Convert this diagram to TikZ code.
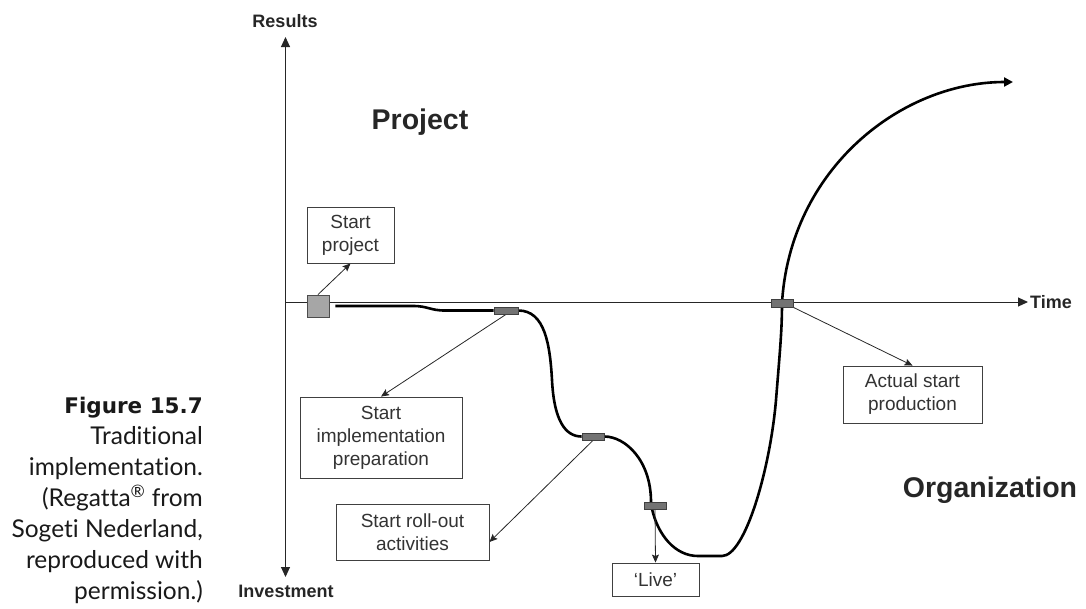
\documentclass[tikz,border=0pt]{standalone}
\usepackage{fontspec}
\setmainfont{Liberation Sans}
\newfontfamily\capfont[Ligatures=NoCommon]{Lato}
\newfontfamily\capbold{DejaVu Sans}
\usetikzlibrary{arrows.meta,backgrounds}

\begin{document}
\begin{tikzpicture}[x=1pt, y=-1pt,
		ax/.style     = {draw=black!85, line width=1pt},
		lbl/.style    = {font=\bfseries\fontsize{18}{20}\selectfont, text=black!85, inner sep=0pt},
		big/.style    = {font=\bfseries\fontsize{28.5}{32}\selectfont, text=black!85, inner sep=0pt},
		box/.style    = {rectangle, draw=black!75, fill=white, line width=0.9pt, align=center, inner sep=0pt, font=\fontsize{19}{23}\selectfont, text=black!80},
		mk/.style     = {rectangle, draw=black!75, fill=black!55, line width=0.8pt, minimum width=22pt, minimum height=7pt, inner sep=0pt},
		sq/.style     = {rectangle, draw=black!70, fill=black!35, line width=0.9pt, minimum size=22pt, inner sep=0pt},
		crv/.style    = {draw=black, line width=2.6pt, -{Triangle[length=9pt,width=9pt]}},
		call/.style   = {draw=black!85, line width=0.8pt, -{Stealth[length=8pt,width=7pt,inset=1.5pt]}},
		figcap/.style = {font=\capfont\fontsize{24.5}{31}\selectfont, text=black!90, align=right, inner sep=0pt}
		]
		\useasboundingbox (0,0) rectangle (1086,608);
		
		%Axes
		\coordinate (ytop) at (285.5, 37);
		\coordinate (ybot) at (285.5, 577);
		\coordinate (xl)   at (285.5, 302);
		\coordinate (xr)   at (1028, 302);
		\coordinate (tip)  at (1013, 82);
		
		%Nodes
		\node[lbl]              (res)  at (285, 21)   {Results};
		\node[lbl]              (inv)  at (286, 591)  {Investment};
		\node[lbl, anchor=west] (time) at (1030, 302)  {Time};
		\node[big]              (prj)  at (420, 122)  {Project};
		\node[big]              (org)  at (990, 490)  {Organization};
		
		\node[sq]	(sq)   at (318, 306)    {};
		\node[mk, minimum width=24pt]	(mk1)  at (506, 310.5)  {};
		\node[mk]	(mk2)  at (593, 436.5)  {};
		\node[mk]	(mk3)  at (655, 505.5)  {};
		\node[mk, minimum height=8pt]	(mk4)  at (782, 303)    {};
		
		\node[box, minimum width=87pt,  minimum height=56pt]	(proj) at (350.5, 235)   {Start\\project};
		\node[box, minimum width=162pt, minimum height=81pt]	(impl) at (381, 437.5)   {Start\\implementation\\preparation};
		\node[box, minimum width=153pt, minimum height=56pt]	(roll) at (412.5, 532)   {Start roll-out\\activities};
		\node[box, minimum width=87pt,  minimum height=33pt]	(live) at (655.5, 579.5) {`Live'};
		\node[box, minimum width=139pt, minimum height=57pt]	(act)  at (912.5, 394.5) {Actual start\\production};
		
		\node[figcap, anchor=east] (fig) at (203, 500) {{\capbold\bfseries\fontsize{21.5}{31}\selectfont Figure 15.7}\\Traditional\\implementation.\\(Regatta\textsuperscript{®} from\\Sogeti Nederland,\\reproduced with\\permission.)};
		
		%Lines
		\begin{scope}[on background layer]
			\draw[ax, {Triangle[length=10pt,width=9pt]}-{Triangle[length=10pt,width=9pt]}] (ytop) -- (ybot);
			\draw[ax, -{Triangle[length=10pt,width=9pt]}] (xl) -- (xr);
			
			\draw[crv] ([xshift=6pt]sq.east) -- (413, 306) .. controls (428, 306) and (430, 310.5) .. (445, 310.5) -- (mk1.west)
				(mk1.east) .. controls (545, 310.5) and (550, 345) .. (552, 380) .. controls (554, 420) and (565, 436.5) .. (mk2.west)
				(mk2.east) .. controls (625, 436.5) and (651, 460) .. (651, 502) -- (652, 509) .. controls (658, 535) and (675, 556) .. (698, 556)
				-- (722, 556) .. controls (745, 556) and (770, 470) .. (776, 400) .. controls (780, 350) and (782, 330) .. (mk4.center)
				.. controls (790, 170) and (900, 82) .. (tip);
			
			\draw[call] (sq.north)  -- (proj.south);
			\draw[call] (mk1.south) -- (impl.north);
			\draw[call] (mk2.south) -- ([yshift=-10pt]roll.east);
			\draw[call] (mk3.south) -- (live.north);
			\draw[call] (mk4.south east) -- (act.north);
		\end{scope}
		
	\end{tikzpicture}
\end{document}
